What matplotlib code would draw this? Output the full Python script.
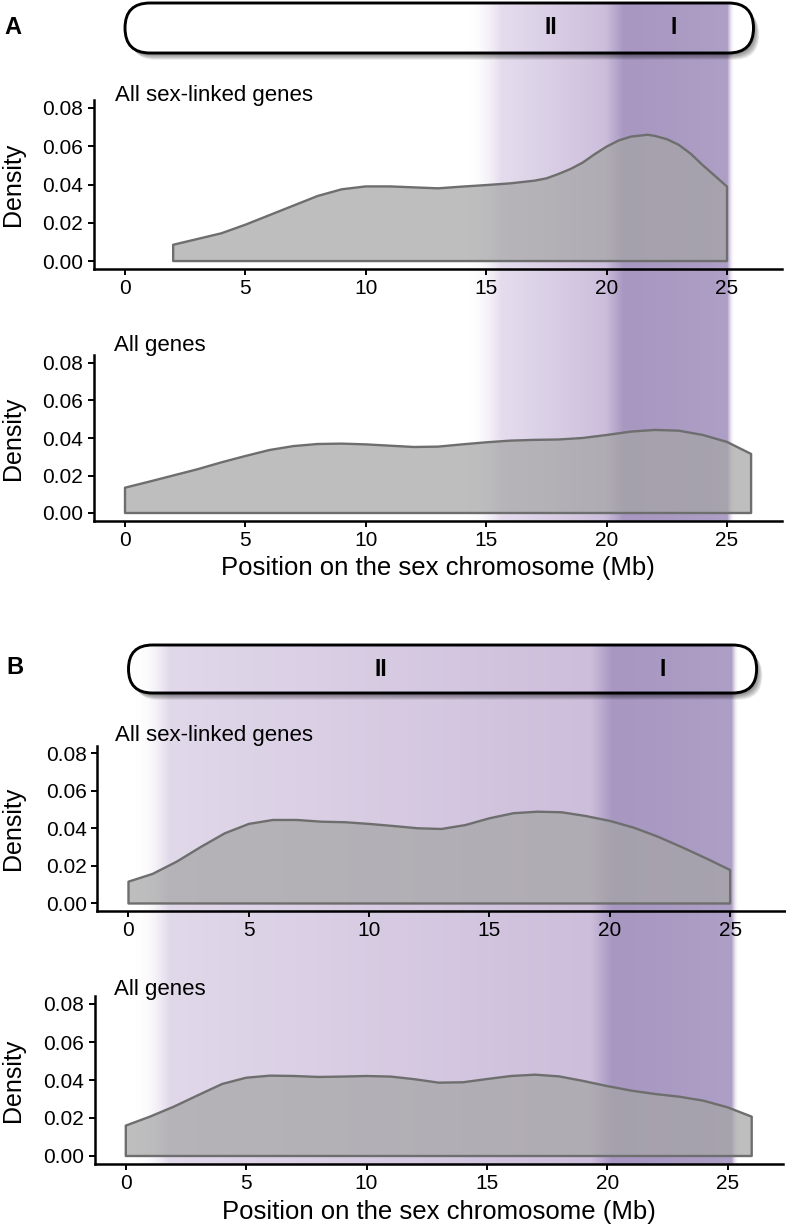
import numpy as np
import matplotlib
matplotlib.use("Agg")
import matplotlib.pyplot as plt
from matplotlib.patches import FancyBboxPatch
from matplotlib.colors import to_rgba

plt.rcParams['font.family'] = ['Liberation Sans', 'DejaVu Sans']

W, H = 786, 1226

# density curves (position in Mb, density)
a_linked_x = [2, 3, 4, 5, 6, 7, 8, 9, 10, 11, 12, 13, 14, 15, 16, 17, 17.5, 18, 18.5, 19, 19.5, 20, 20.5,
              21, 21.7, 22, 22.5, 23, 23.5, 24, 24.5, 25]
a_linked_y = [0.0085, 0.0115, 0.0145, 0.019, 0.024, 0.029, 0.034, 0.0375, 0.039, 0.039, 0.0385, 0.038, 0.0389,
              0.0397, 0.0406, 0.042, 0.0432, 0.0455, 0.0481, 0.0514, 0.0558, 0.0598, 0.063,
              0.065, 0.066, 0.0654, 0.0637, 0.0607, 0.056, 0.050, 0.0445, 0.0389]

a_all_x = list(range(0, 27))
a_all_y = [0.0135, 0.0167, 0.020, 0.0233, 0.027, 0.0304, 0.0336, 0.0357, 0.0368, 0.037, 0.0366, 0.0359, 0.0352,
           0.0354, 0.0366, 0.0377, 0.0386, 0.039, 0.0392, 0.040, 0.0416, 0.0434, 0.0443, 0.0439, 0.0416, 0.0379, 0.0315]

b_linked_x = list(range(0, 26))
b_linked_y = [0.0116, 0.0157, 0.0222, 0.030, 0.0373, 0.0423, 0.0444, 0.0444, 0.0435, 0.0432, 0.0423, 0.0412, 0.040,
              0.0396, 0.0417, 0.0453, 0.048, 0.0488, 0.0485, 0.0465, 0.0439, 0.0403, 0.0355, 0.0299, 0.024, 0.0178]

b_all_x = list(range(0, 27))
b_all_y = [0.016, 0.0207, 0.026, 0.032, 0.0379, 0.0412, 0.0423, 0.0421, 0.0416, 0.0418, 0.0421, 0.0418, 0.0404,
           0.0386, 0.0388, 0.0405, 0.0421, 0.0428, 0.0419, 0.0395, 0.0368, 0.0344, 0.0326, 0.0312, 0.0291, 0.0256, 0.0207]

# strata shading along the chromosome (Mb, colour)
a_stops_x = [14.2, 15.6, 19.9, 20.7, 25.0, 25.3]
b_stops_x = [0.3, 1.7, 19.2, 20.1, 25.05, 25.35]
a_stops_c = ['#ffffff00', '#e5ddee', '#cdbfdc', '#a797c1', '#ae9fc6', '#ffffff00']
b_stops_c = ['#ffffff00', '#e1d8ea', '#cdbedb', '#a797c1', '#ae9fc6', '#ffffff00']

chrom_len = 26.1
a_strata = [('II', 17.7), ('I', 22.8)]
b_strata = [('II', 10.5), ('I', 22.2)]

xticks = [0, 5, 10, 15, 20, 25]
yticks = [0.00, 0.02, 0.04, 0.06, 0.08]
XLIM = (-1.3, 27.3)
YLIM = (-0.004, 0.084)

fig = plt.figure(figsize=(W / 100, H / 100), dpi=100)


def box(l, t, r, b):
    return [l / W, 1 - b / H, (r - l) / W, (b - t) / H]


def gradient(ax, sx, sc, y0, y1, clip=None, z=1):
    xs = np.linspace(XLIM[0], XLIM[1], 3000)
    cols = np.array([to_rgba(c) for c in sc])
    rgba = np.stack([np.interp(xs, sx, cols[:, k]) for k in range(4)], axis=-1)
    im = ax.imshow(rgba[None, :, :], extent=[XLIM[0], XLIM[1], y1, y0], aspect='auto',
                   interpolation='bilinear', zorder=z)
    if clip is not None:
        im.set_clip_path(clip)
    return im


def background(l, r, top, bottom, bar_top, bar_bot, sx, sc, strata):
    ax = fig.add_axes(box(l, top, r, bottom), zorder=0)
    ax.set_xlim(XLIM)
    ax.set_ylim(bottom, top)
    ax.axis('off')
    pxmb = (r - l) / (XLIM[1] - XLIM[0])
    h = bar_bot - bar_top
    style = 'round,pad=0,rounding_size=%f' % (h / 2 / pxmb)
    gradient(ax, sx, sc, bar_top, bottom, z=1)
    # soft drop shadow
    for k in range(7):
        dx = (1.5 + k * 0.7) / pxmb
        dy = 2 + k * 0.8
        sh = FancyBboxPatch((dx, bar_top + dy), chrom_len, h, boxstyle=style,
                            mutation_aspect=pxmb, fc='black', ec='none', alpha=0.07, zorder=2)
        ax.add_patch(sh)
    fill = FancyBboxPatch((0, bar_top), chrom_len, h, boxstyle=style, mutation_aspect=pxmb,
                          fc='white', ec='none', zorder=3)
    ax.add_patch(fill)
    gradient(ax, sx, sc, bar_top, bar_bot, clip=fill, z=4)
    outline = FancyBboxPatch((0, bar_top), chrom_len, h, boxstyle=style, mutation_aspect=pxmb,
                             fc='none', ec='black', lw=2.1, zorder=5)
    ax.add_patch(outline)
    for lab, pos in strata:
        ax.text(pos, (bar_top + bar_bot) / 2, lab, ha='center', va='center', fontsize=16.5,
                fontweight='bold', zorder=6)
    return ax


def density(rect, x, y, title, title_xy, xlabel=None, xlabel_y=None):
    ax = fig.add_axes(box(*rect), zorder=2)
    ax.set_facecolor('none')
    xs = [x[0]] + list(x) + [x[-1]]
    ys = [0] + list(y) + [0]
    ax.fill(xs, ys, facecolor=(0.647, 0.647, 0.647, 0.72), edgecolor='#6e6e6e', lw=1.7,
            joinstyle='round')
    ax.set_xlim(XLIM)
    ax.set_ylim(YLIM)
    ax.set_xticks(xticks)
    ax.set_yticks(yticks)
    ax.set_yticklabels(['%.2f' % v for v in yticks])
    for s in ['top', 'right']:
        ax.spines[s].set_visible(False)
    for s in ['left', 'bottom']:
        ax.spines[s].set_linewidth(1.8)
    ax.tick_params(length=4.5, width=1.4, labelsize=15, pad=3, colors='black')
    ax.set_ylabel('Density', fontsize=18)
    ax.yaxis.label.set_verticalalignment('center')
    l, t, r, b = rect
    ax.yaxis.set_label_coords((13 - l) / (r - l), 0.5)
    if xlabel:
        ax.set_xlabel(xlabel, fontsize=18.5)
        ax.xaxis.label.set_verticalalignment('center')
        ax.xaxis.set_label_coords(0.5, -(xlabel_y - b) / (b - t))
    fig.text(title_xy[0] / W, 1 - title_xy[1] / H, title, fontsize=16, ha='left', va='center')
    return ax


# panel A
background(93.7, 782.4, 0, 522, 3, 53, a_stops_x, a_stops_c, a_strata)
density((93.7, 100.3, 782.4, 268.7), a_linked_x, a_linked_y, 'All sex-linked genes', (115, 95))
density((93.7, 355.5, 782.4, 520.5), a_all_x, a_all_y, 'All genes', (114, 345),
        'Position on the sex chromosome (Mb)', 568)

# panel B
background(97.2, 785.5, 640, 1164, 645, 693, b_stops_x, b_stops_c, b_strata)
density((97.2, 745.5, 785.5, 911), b_linked_x, b_linked_y, 'All sex-linked genes', (115, 736))
density((94.5, 996.4, 783, 1163.6), b_all_x, b_all_y, 'All genes', (114, 990),
        'Position on the sex chromosome (Mb)', 1212)

fig.text(13 / W, 1 - 27 / H, 'A', fontsize=17, fontweight='bold', ha='center', va='center')
fig.text(15 / W, 1 - 667 / H, 'B', fontsize=17, fontweight='bold', ha='center', va='center')

fig.savefig('out.png', dpi=100)
